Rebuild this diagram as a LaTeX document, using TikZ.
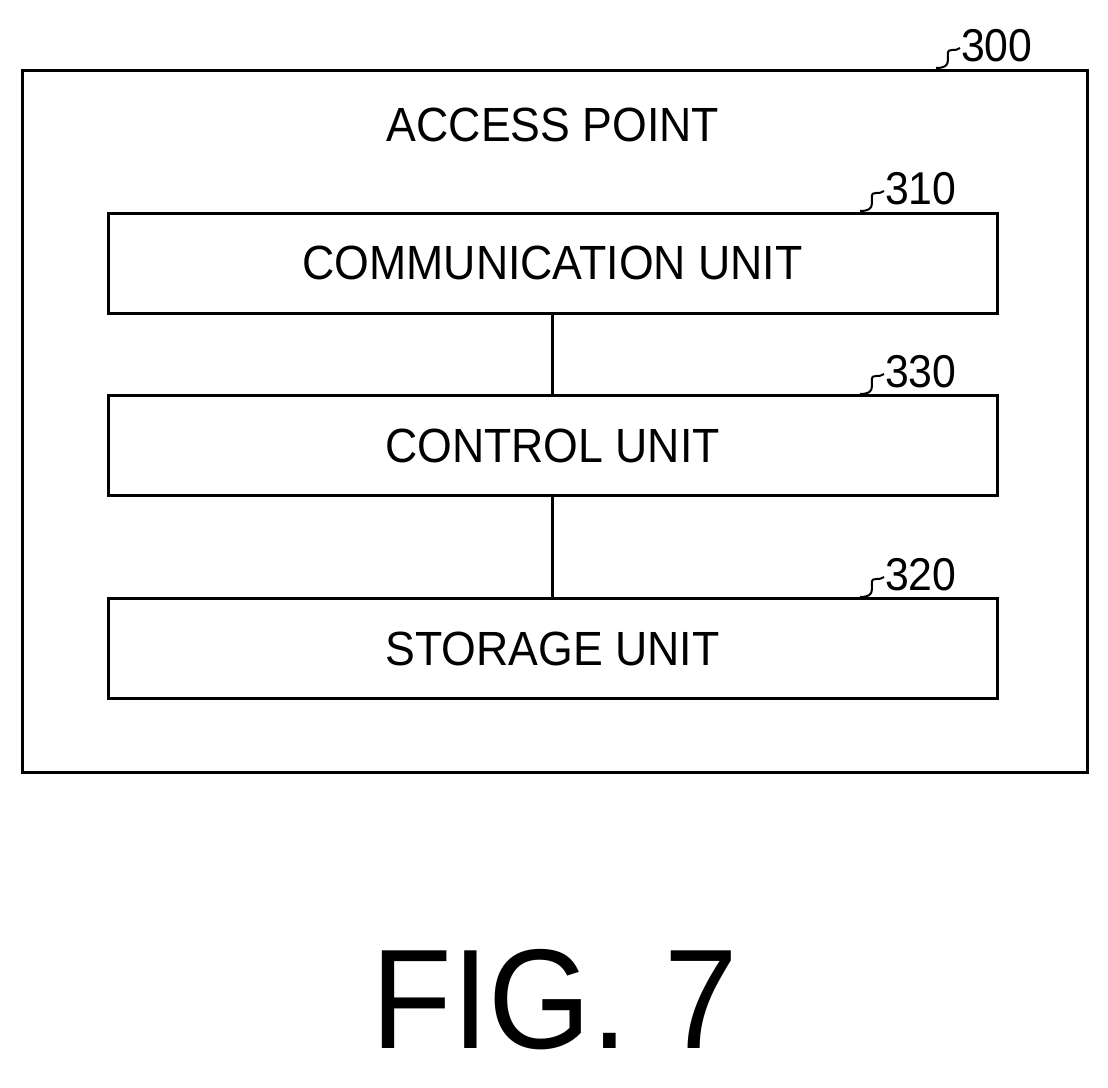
\documentclass[tikz,border=0pt]{standalone}
\usepackage{fontspec}
\setmainfont{Liberation Sans}[FakeStretch=0.93]
\begin{document}
\begin{tikzpicture}[x=1pt,y=-1pt,
  box/.style={draw,line width=3pt,minimum width=889pt,minimum height=100pt,inner sep=0pt,font=\fontsize{48}{50}\selectfont},
  lab/.style={font=\fontsize{46}{48}\selectfont,anchor=west,inner sep=0pt},
  sq/.style={line width=2pt}]
\useasboundingbox (0,0) rectangle (1108,1087);
\node[draw,line width=3pt,minimum width=1065pt,minimum height=702pt,inner sep=0pt] (outer) at (554.5,421) {};
\node[font=\fontsize{48}{50}\selectfont] (title) at (553,125) {ACCESS POINT};
\node[box] (b310) at (552.5,263) {COMMUNICATION UNIT};
\node[box] (b330) at (552.5,445.5) {CONTROL UNIT};
\node[box] (b320) at (552.5,648.5) {STORAGE UNIT};
\draw[line width=2.5pt] (b310.south) -- (b330.north);
\draw[line width=2.5pt] (b330.south) -- (b320.north);
\coordinate (c300) at (936,68);
\coordinate (c310) at (860,211);
\coordinate (c330) at (860,394);
\coordinate (c320) at (860,597);
\foreach \c/\t in {c300/300,c310/310,c330/330,c320/320}{
  \draw[sq] (\c) .. controls +(8,0) and +(0,6) .. ++(12,-8) .. controls +(0,-6) and +(-6,0) .. ++(4,-10) .. controls +(4,0) .. ++(8,-2) coordinate (e\t);
  \node[lab] (l\t) at ([xshift=1pt,yshift=2pt]e\t) {\t};
}
\node[font=\fontsize{142}{142}\selectfont] (fig) at (555,1000) {FIG. 7};
\end{tikzpicture}
\end{document}
